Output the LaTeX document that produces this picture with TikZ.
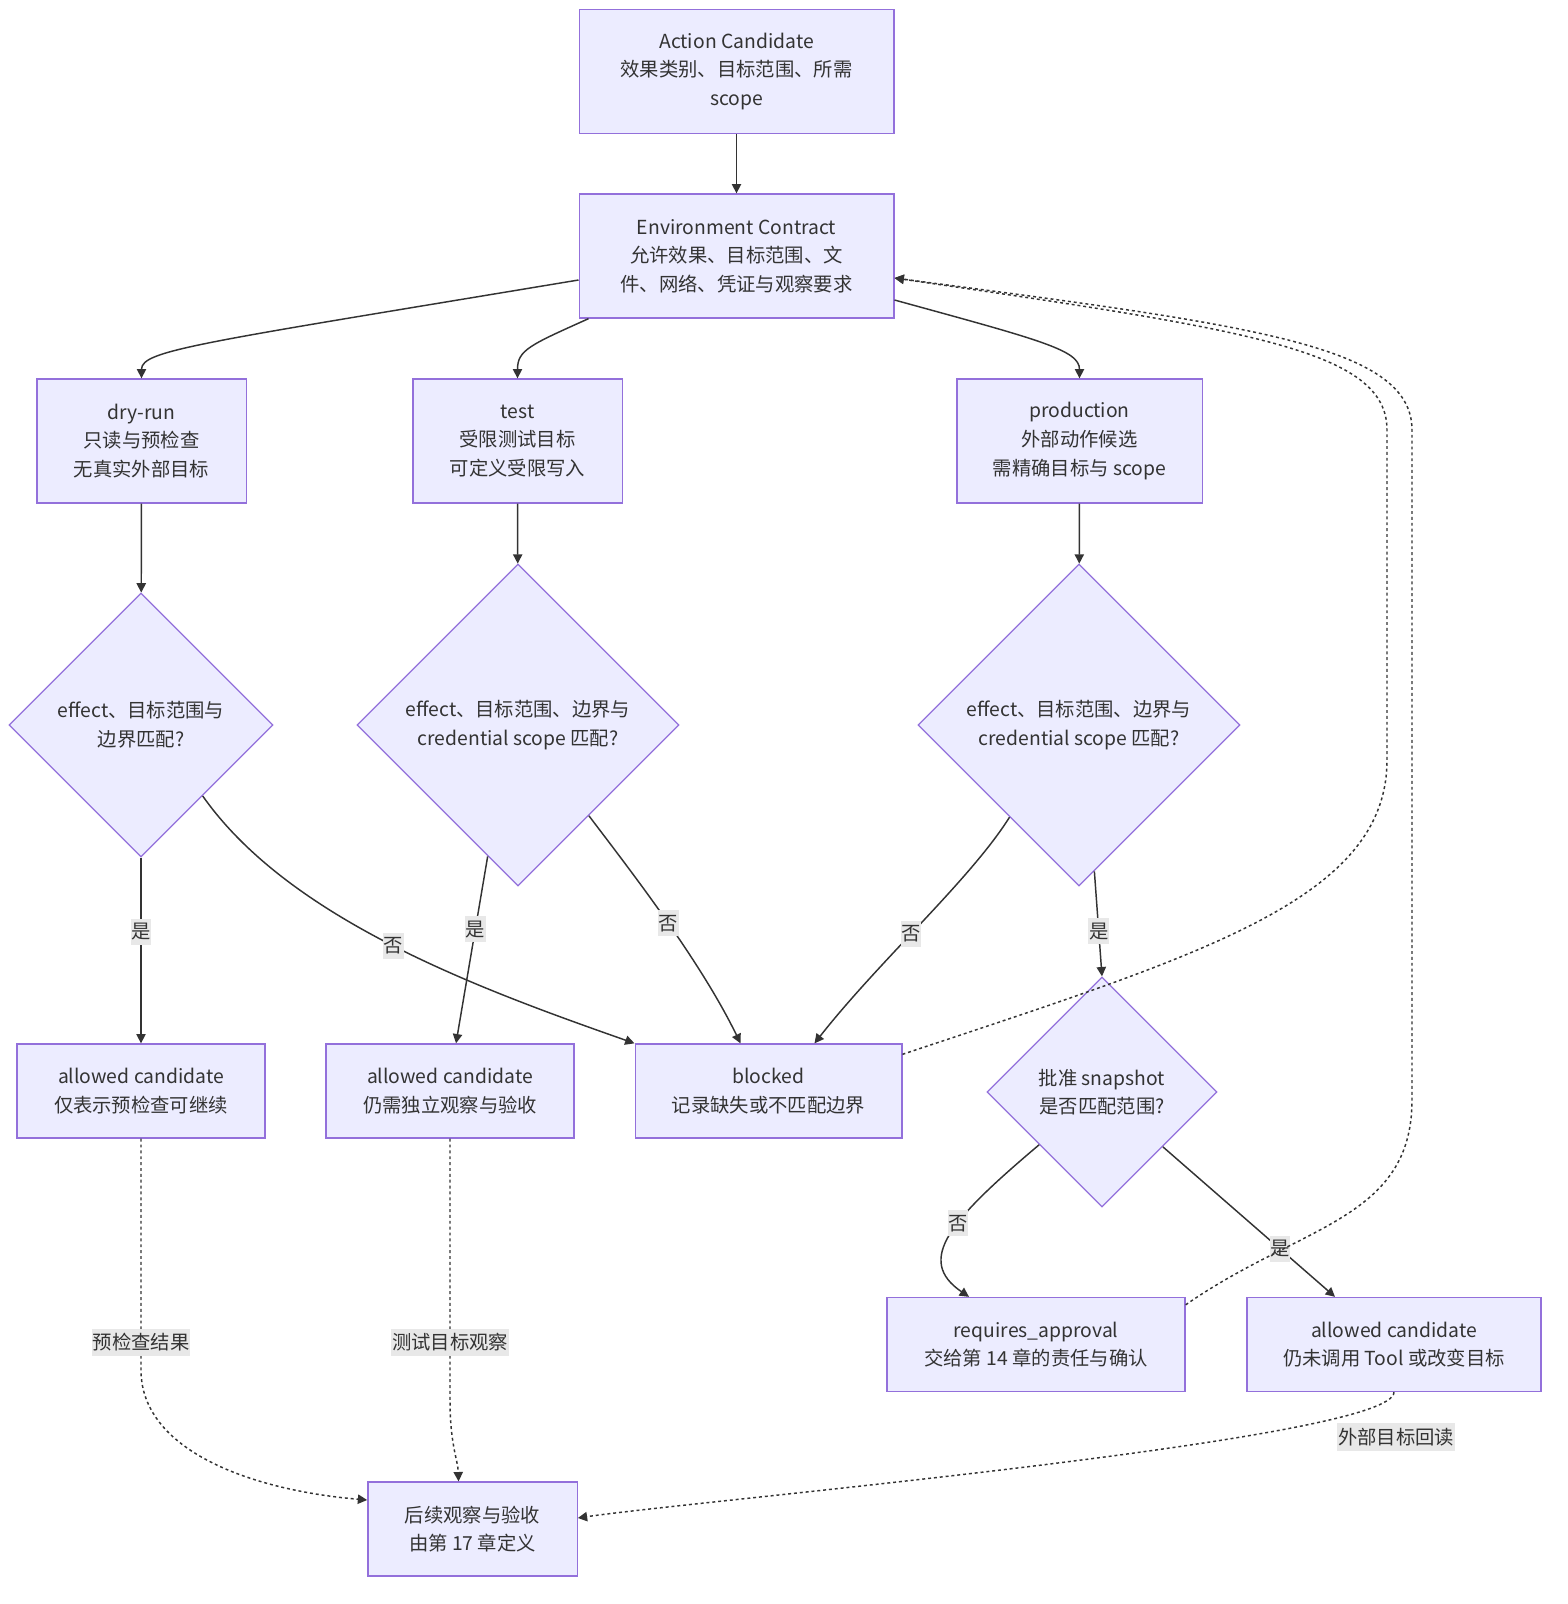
\documentclass[tikz,border=0pt]{standalone}
\usepackage{fontspec}
\setmainfont{Noto Sans CJK SC}
\usetikzlibrary{arrows.meta,calc,shapes.geometric}
\definecolor{boxfill}{HTML}{ECECFF}
\definecolor{boxline}{HTML}{9370DB}
\definecolor{edgeline}{HTML}{333333}
\definecolor{lblfill}{HTML}{E8E8E8}

\begin{document}
\begin{tikzpicture}[x=0.75pt,y=-0.75pt,
    font=\fontsize{14.5pt}{21.5pt}\selectfont,
    box/.style={draw=boxline,fill=boxfill,line width=1pt,text=edgeline,align=center,inner sep=0pt},
    tall/.style={box,minimum height=93pt},
    flat/.style={box,minimum height=70.5pt},
    decide/.style={diamond,aspect=1,draw=boxline,fill=boxfill,line width=1pt,text=edgeline,align=center,inner sep=0pt},
    flow/.style={draw=edgeline,line width=1.1pt,-{Triangle[length=7pt,width=7pt]}},
    back/.style={flow,dash pattern=on 2.2pt off 2.2pt},
    lbl/.style={fill=lblfill,text=edgeline,inner xsep=0.5pt,inner ysep=3.5pt}]
    \useasboundingbox (0,0) rectangle (1568,1604);

    % nodes
    \node[tall,minimum width=236pt] (act) at (736.5,71.5) {Action Candidate\\效果类别、目标范围、所需\\scope};
    \node[tall,minimum width=236pt] (env) at (736.5,256) {Environment Contract\\允许效果、目标范围、文\\件、网络、凭证与观察要求};
    \node[tall,minimum width=157pt] (dry) at (141.5,441) {dry-run\\只读与预检查\\无真实外部目标};
    \node[tall,minimum width=157pt] (test) at (517.5,441) {test\\受限测试目标\\可定义受限写入};
    \node[tall,minimum width=184pt] (prod) at (1079.5,441) {production\\外部动作候选\\需精确目标与 scope};
    \node[decide,minimum size=198pt] (d1) at (141,725) {effect、目标范围与\\边界匹配?};
    \node[decide,minimum size=241.5pt] (d2) at (518,725) {effect、目标范围、边界与\\credential scope 匹配?};
    \node[decide,minimum size=241.5pt] (d3) at (1079,725) {effect、目标范围、边界与\\credential scope 匹配?};
    \node[flat,minimum width=186pt] (ac1) at (141,1091) {allowed candidate\\仅表示预检查可继续};
    \node[flat,minimum width=186pt] (ac2) at (450,1091) {allowed candidate\\仍需独立观察与验收};
    \node[flat,minimum width=200pt] (blocked) at (768.5,1091) {blocked\\记录缺失或不匹配边界};
    \node[decide,minimum size=172.5pt] (d4) at (1102,1092) {批准 snapshot\\是否匹配范围?};
    \node[flat,minimum width=223.5pt] (req) at (1036,1344.5) {requires\_approval\\交给第 14 章的责任与确认};
    \node[flat,minimum width=220.5pt] (ac3) at (1394,1344.5) {allowed candidate\\仍未调用 Tool 或改变目标};
    \node[flat,minimum width=157pt] (post) at (472.5,1529) {后续观察与验收\\由第 17 章定义};

    % edges
    \draw[flow] (act) -- (env);
    \draw[flow] ($(env.west)+(0,24)$) .. controls (200,343) and (141.5,350) .. (dry.north);
    \draw[flow] ($(env.south west)+(10,0)$) .. controls (530,345) and (517.5,350) .. (test.north);
    \draw[flow] ($(env.east)+(0,44)$) .. controls (1040,340) and (1079.5,350) .. (prod.north);
    \draw[flow] (dry) -- (d1);
    \draw[flow] (test) -- (d2);
    \draw[flow] (prod) -- (d3);
    \draw[flow] (d1) -- node[lbl,pos=0.4] {是} (ac1);
    \draw[flow] (d1.-49) .. controls (290,920) and (480,989) .. node[lbl,pos=0.5] {否} (blocked.north west);
    \draw[flow] (d2.-103) -- node[lbl,pos=0.39] {是} ($(ac2.north)+(6,0)$);
    \draw[flow] (d2.-52) .. controls (630,870) and (700,960) .. node[lbl,pos=0.52] {否} ($(blocked.north)+(-28,0)$);
    \draw[flow] (d3.-127) .. controls (970,880) and (880,960) .. node[lbl,pos=0.55] {否} ($(blocked.north)+(46,0)$);
    \draw[flow] (d3.-84) -- node[lbl,pos=0.57] {是} (d4.north);
    \draw[flow] (d4.-140) .. controls (950,1220) and (915,1260) .. node[lbl,pos=0.42] {否} ($(req.north)+(-67,0)$);
    \draw[flow] (d4.-42) -- node[lbl,pos=0.68] {是} ($(ac3.north)+(-59,0)$);

    % dotted returns
    \draw[back] ($(blocked.north east)+(0,11)$) .. controls (1200,955) and (1387,900) .. (1387,760) -- (1387,430) .. controls (1387,350) and (1250,330) .. ($(env.east)+(0,22)$);
    \draw[back] ($(req.north east)+(0,8)$) .. controls (1300,1225) and (1412,1220) .. (1412,1100) -- (1412,430) .. controls (1412,345) and (1250,325) .. ($(env.east)+(0,22)$);
    \draw[back] (ac1.south) -- node[lbl,pos=0.88] {预检查结果} (141,1370) .. controls (141,1450) and (250,1490) .. ($(post.west)+(0,-29)$);
    \draw[back] (ac2.south) -- node[lbl,pos=0.78] {测试目标观察} (450,1400) .. controls (450,1445) and (458,1460) .. ($(post.north)+(-14,0)$);
    \draw[back] (ac3.south) .. controls (1394,1440) and (700,1500) .. ($(post.east)+(0,-11)$);
    \node[lbl] (readback) at (1396,1437) {外部目标回读};
\end{tikzpicture}
\end{document}
